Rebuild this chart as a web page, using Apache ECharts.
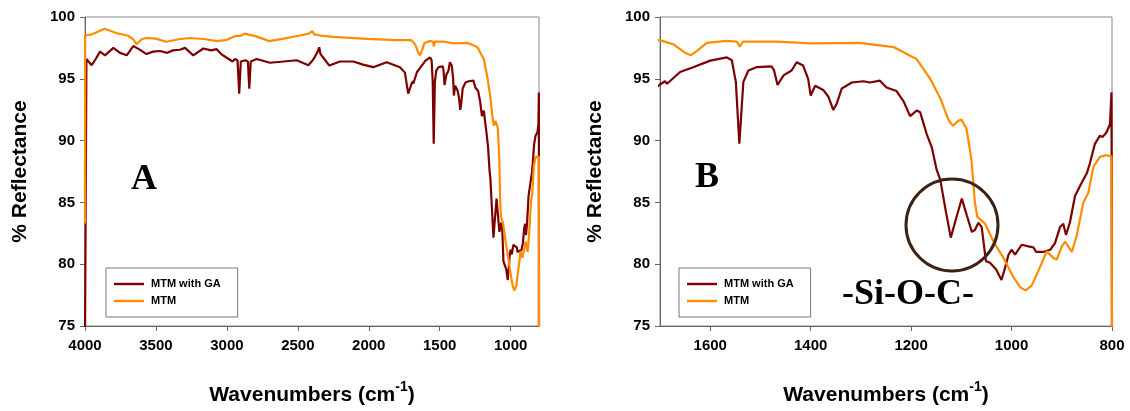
<!DOCTYPE html>
<html>
<head>
<meta charset="utf-8">
<script src="https://cdn.jsdelivr.net/npm/echarts@6/dist/echarts.min.js"></script>
<style>
html,body{margin:0;padding:0;background:#fff;}
#c{width:1130px;height:411px;}
</style>
</head>
<body>
<div id="c"></div>
<script>
// ---- data ----
const seriesNames = ['MTM with GA', 'MTM'];

const gaWavenumbers = [4000,3990,3953,3930,3894,3859,3800,3753,3706,3660,3620,3566,3520,3471,3420,3380,3331,3295,3237,3166,3110,3072,3040,3001,2960,2943,2925,2913,2902,2870,2852,2842,2832,2790,2696,2600,2508,2426,2395,2379,2360,2349,2340,2320,2278,2203,2109,2040,1968,1874,1780,1745,1722,1710,1700,1690,1686,1660,1634,1600,1567,1557,1549,1542,1534,1524,1508,1478,1473,1466,1454,1438,1428,1415,1405,1400,1391,1375,1365,1355,1348,1338,1318,1295,1282,1262,1249,1229,1215,1202,1189,1182,1169,1159,1149,1142,1130.5,1121,1110.6,1099,1089,1079,1073,1066,1059.5,1051,1043,1031,1020,1013,1006,1000,993,986.5,980,966.5,956.6,951,937,923,913.5,903.5,897,891.6,883.6,873.6,863.7,850,844,834,824,819,811,804,801,800];
const gaReflectance = [74,96.6,96.1,96.5,97.2,96.9,97.5,97.1,96.9,97.65,97.4,97.0,97.2,97.25,97.1,97.3,97.35,97.5,96.9,97.45,97.3,97.4,97.0,96.7,96.4,96.6,96.5,93.8,96.4,96.5,96.4,94.2,96.4,96.6,96.3,96.4,96.5,96.1,96.5,96.8,97.2,97.55,97.0,96.7,96.07,96.4,96.4,96.15,95.94,96.34,95.94,95.5,93.8,94.2,94.54,94.8,94.6,95.55,95.94,96.47,96.73,96.5,94.75,89.75,94.75,95.67,95.94,96.0,95.7,94.5,95.28,95.67,96.34,96.07,95.0,93.65,94.44,94.1,93.57,92.48,93.0,94.22,94.7,94.8,94.7,94.85,94.3,94.01,93.17,91.98,92.43,92.3,90.53,89.48,87.63,86.84,84.2,82.15,83.68,85.31,83.94,82.62,82.76,83.36,83.0,80.25,80.12,79.59,78.72,79.7,80.78,81.17,80.78,81.17,81.57,81.44,81.36,80.99,80.99,81.17,81.7,83.0,83.28,82.36,83.41,85.52,86.32,87.37,88.16,89.74,90.4,90.3,90.66,91.32,93.9,74];

const mtmWavenumbers = [4000,3999,3950,3861,3780,3700,3660,3637,3600,3570,3500,3428,3340,3257,3150,3069,3000,2944,2900,2875,2800,2701,2600,2485,2424,2398,2385,2344,2250,2015,1804,1700,1673,1650,1639,1625,1607,1567,1547,1541,1535,1468,1398,1302,1235,1202,1189,1162,1142,1126,1117,1106,1100,1090,1080,1073,1068,1060,1052.8,1036,1016,996,983,972,960,946.6,930,926.7,916.8,910,900,893.5,880,870,857,847,837,824,811,801,800];
const mtmReflectance = [83.3,98.5,98.6,99.05,98.7,98.5,98.2,97.8,98.2,98.3,98.25,98.0,98.2,98.3,98.2,98.05,98.15,98.45,98.5,98.65,98.45,98.05,98.25,98.5,98.65,98.86,98.6,98.5,98.39,98.23,98.13,98.13,97.78,97.1,96.9,97.3,97.9,98.07,98.0,97.6,98.0,98.0,97.86,97.9,97.57,96.86,96.6,95.0,93.43,91.72,91.2,91.6,91.7,91.0,88.5,85.0,83.8,83.55,83.28,81.83,80.51,78.93,78.14,77.88,78.27,79.46,81.04,81.17,80.51,80.38,81.44,81.83,80.99,82.36,85.0,85.79,87.9,88.69,88.82,88.7,74];

const yTicks = [75, 80, 85, 90, 95, 100];
const xTicksA = [1000, 1500, 2000, 2500, 3000, 3500, 4000];
const xTicksB = [800, 1000, 1200, 1400, 1600];

// ---- build chart ----
const pairs = (w, v) => w.map((x, i) => [x, v[i]]);
const gaData = pairs(gaWavenumbers, gaReflectance);
const mtmData = pairs(mtmWavenumbers, mtmReflectance);

const COL_GA = '#7d0000';
const COL_MTM = '#ff8c00';
const FONT = '"Liberation Sans", Arial, sans-serif';
const SERIF = '"Liberation Serif", "Times New Roman", serif';

function xAxis(idx, min, max, ticks) {
  return {
    type: 'value', gridIndex: idx, inverse: true, min: min, max: max,
    name: '{a|Wavenumbers (cm}{b|-1}{a|)}',
    nameLocation: 'middle', nameGap: 54,
    nameTextStyle: {
      rich: {
        a: {fontFamily: FONT, fontWeight: 'bold', fontSize: 21, color: '#000', lineHeight: 26, verticalAlign: 'bottom'},
        b: {fontFamily: FONT, fontWeight: 'bold', fontSize: 14, color: '#000', lineHeight: 26, verticalAlign: 'top'}
      }
    },
    axisLine: {show: true, onZero: false, lineStyle: {color: '#666', width: 1}},
    axisTick: {show: true, inside: false, length: 5, customValues: ticks, lineStyle: {color: '#666'}},
    axisLabel: {customValues: ticks, fontFamily: FONT, fontWeight: 'bold', fontSize: 15, color: '#000', margin: 12,
      formatter: v => String(v)},
    splitLine: {show: false}
  };
}
function yAxis(idx) {
  return {
    type: 'value', gridIndex: idx, min: 75, max: 100, interval: 5,
    name: '% Reflectance', nameLocation: 'middle', nameGap: 54,
    nameTextStyle: {fontFamily: FONT, fontWeight: 'bold', fontSize: 21, color: '#000'},
    axisLine: {show: true, lineStyle: {color: '#666', width: 1}},
    axisTick: {show: true, inside: false, length: 5, lineStyle: {color: '#666'}},
    axisLabel: {fontFamily: FONT, fontWeight: 'bold', fontSize: 15, color: '#000', margin: 10,
      formatter: v => yTicks.includes(v) ? String(v) : ''},
    splitLine: {show: false}
  };
}
function line(name, data, idx, color) {
  return {
    type: 'line', name: name, data: data, xAxisIndex: idx, yAxisIndex: idx,
    symbol: 'none', showSymbol: false, smooth: false,
    lineStyle: {color: color, width: 2.2}, itemStyle: {color: color},
    emphasis: {disabled: true}, animation: false, clip: true
  };
}
function legend(left) {
  return {
    orient: 'vertical', left: left, top: 268,
    data: seriesNames,
    icon: 'path://M0,0 L30,0 L30,2.4 L0,2.4 Z',
    itemWidth: 30, itemHeight: 2.4, itemGap: 3,
    padding: [9, 17, 9, 8],
    borderColor: '#777', borderWidth: 1,
    textStyle: {fontFamily: FONT, fontWeight: 'bold', fontSize: 11, color: '#000', lineHeight: 14, padding: [0,0,0,2]},
    selectedMode: false
  };
}

const chart = echarts.init(document.getElementById('c'), null, {renderer: 'canvas'});
chart.setOption({
  animation: false,
  backgroundColor: '#fff',
  grid: [
    {left: 85, top: 17, width: 454, height: 316, show: true, borderColor: '#888', borderWidth: 1, backgroundColor: 'transparent'},
    {left: 660, top: 17, width: 452, height: 316, show: true, borderColor: '#888', borderWidth: 1, backgroundColor: 'transparent'}
  ],
  xAxis: [xAxis(0, 800, 4000, xTicksA), xAxis(1, 800, 1700, xTicksB)],
  yAxis: [yAxis(0), yAxis(1)],
  legend: [legend(106), legend(679)],
  series: [
    line(seriesNames[0], gaData, 0, COL_GA),
    line(seriesNames[1], mtmData, 0, COL_MTM),
    line(seriesNames[0], gaData, 1, COL_GA),
    line(seriesNames[1], mtmData, 1, COL_MTM)
  ],
  graphic: [
    {type: 'text', x: 144, y: 180, style: {text: 'A', font: 'bold 36px ' + SERIF, fill: '#000', textAlign: 'center', textVerticalAlign: 'middle'}},
    {type: 'text', x: 707, y: 178, style: {text: 'B', font: 'bold 36px ' + SERIF, fill: '#000', textAlign: 'center', textVerticalAlign: 'middle'}},
    {type: 'text', x: 908, y: 295, style: {text: '-Si-O-C-', font: 'bold 36px ' + SERIF, fill: '#000', textAlign: 'center', textVerticalAlign: 'middle'}},
    {type: 'circle', shape: {cx: 952, cy: 225, r: 46}, style: {fill: 'none', stroke: '#3a2314', lineWidth: 3}, z: 10}
  ]
});
</script>
</body>
</html>
